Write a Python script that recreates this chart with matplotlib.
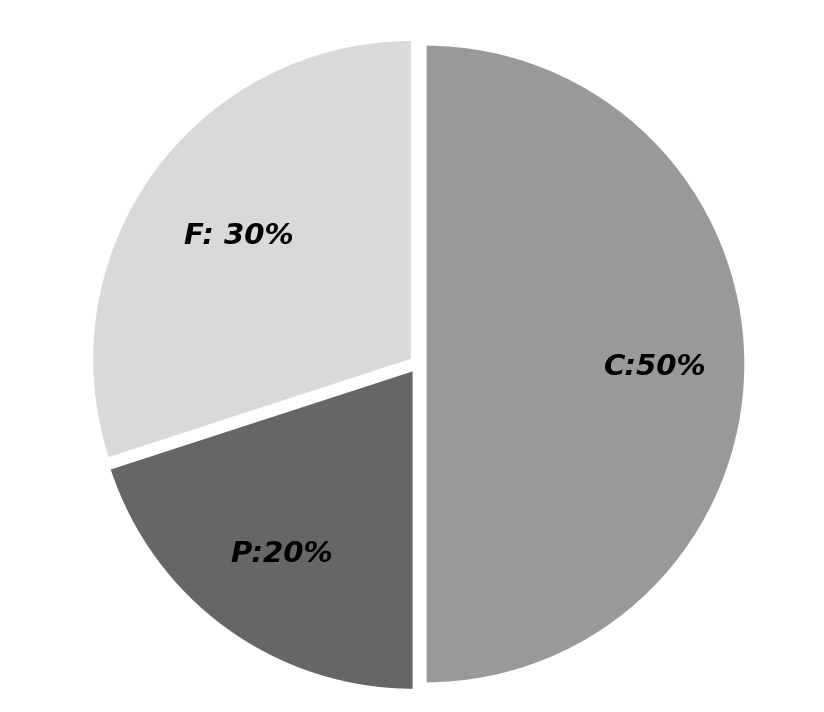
import matplotlib.pyplot as plt
import numpy as np

labels = ['C:50%', 'P:20%', 'F: 30%']
values = [50, 20, 30]
colors = ['#999999', '#666666', '#d9d9d9']
label_r = [0.72, 0.70, 0.67]

fig = plt.figure(figsize=(8.24, 7.12), dpi=100)
ax = fig.add_axes([0, 0, 1, 1])

r_px = 319.0
wedges, _ = ax.pie(values, colors=colors, startangle=90, counterclock=False,
                   explode=[0.025] * 3, radius=1.0,
                   wedgeprops=dict(edgecolor='white', linewidth=1))

# labels placed along each wedge's bisector
for w, lab, lr in zip(wedges, labels, label_r):
    ang = np.deg2rad((w.theta1 + w.theta2) / 2)
    cx, cy = w.center
    ax.text(cx + lr * np.cos(ang), cy + lr * np.sin(ang) - 0.008, lab,
            ha='center', va='center', fontsize=21, fontweight='bold',
            fontstyle='italic', color='black')

ax.set_xlim(-418 / r_px, (824 - 418) / r_px)
ax.set_ylim(-(712 - 364) / r_px, 364 / r_px)
ax.set_aspect('equal')
ax.axis('off')

fig.savefig('out.png', dpi=100)
